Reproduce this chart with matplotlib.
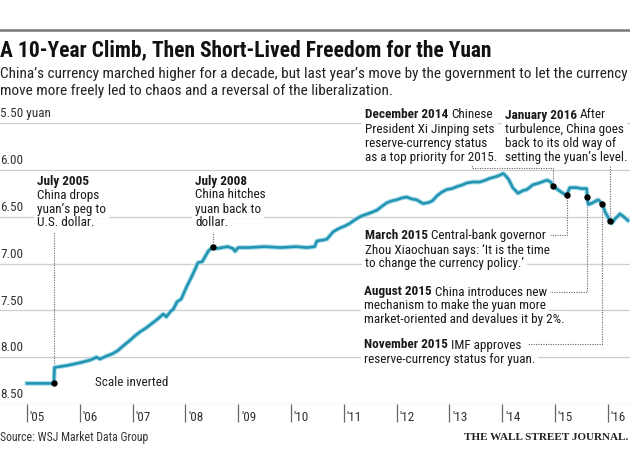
import matplotlib
matplotlib.use("Agg")
from matplotlib import pyplot as plt
from matplotlib.lines import Line2D
import matplotlib.patheffects as pe

# yuan per dollar (decimal years)
dates = [2005.00, 2005.51, 2005.52, 2005.75, 2006.00, 2006.20, 2006.32, 2006.38, 2006.50, 2006.63,
         2006.72, 2006.82, 2006.95, 2007.05, 2007.14, 2007.25, 2007.39, 2007.48, 2007.58, 2007.64,
         2007.72, 2007.77, 2007.84, 2007.92, 2008.03, 2008.12, 2008.24, 2008.32, 2008.43, 2008.52,
         2008.60, 2008.70, 2008.80, 2008.90, 2008.94, 2009.00, 2009.20, 2009.50, 2009.80, 2010.10,
         2010.30, 2010.45, 2010.49, 2010.60, 2010.68, 2010.80, 2010.93, 2011.02, 2011.12, 2011.22,
         2011.31, 2011.40, 2011.50, 2011.63, 2011.72, 2011.82, 2011.92, 2012.00, 2012.10, 2012.19,
         2012.28, 2012.38, 2012.50, 2012.60, 2012.68, 2012.76, 2012.85, 2012.95, 2013.05, 2013.14,
         2013.25, 2013.33, 2013.45, 2013.58, 2013.68, 2013.77, 2013.90, 2014.02, 2014.06, 2014.12,
         2014.20, 2014.30, 2014.40, 2014.47, 2014.58, 2014.70, 2014.85, 2014.92, 2014.96, 2015.05,
         2015.15, 2015.22, 2015.28, 2015.40, 2015.50, 2015.60, 2015.61, 2015.63, 2015.68, 2015.72,
         2015.78, 2015.82, 2015.89, 2015.95, 2016.00, 2016.04, 2016.08, 2016.14, 2016.20, 2016.23,
         2016.30, 2016.38]
yuan = [8.28, 8.28, 8.11, 8.09, 8.06, 8.03, 8.00, 8.02, 7.99, 7.96,
        7.93, 7.88, 7.82, 7.77, 7.73, 7.69, 7.63, 7.59, 7.54, 7.57,
        7.51, 7.49, 7.41, 7.38, 7.24, 7.14, 6.99, 6.98, 6.87, 6.82,
        6.84, 6.83, 6.82, 6.84, 6.87, 6.83, 6.83, 6.82, 6.83, 6.82,
        6.83, 6.82, 6.76, 6.75, 6.74, 6.66, 6.62, 6.60, 6.57, 6.53,
        6.50, 6.48, 6.46, 6.43, 6.39, 6.35, 6.33, 6.32, 6.30, 6.29,
        6.31, 6.32, 6.36, 6.35, 6.33, 6.28, 6.24, 6.21, 6.20, 6.18,
        6.16, 6.14, 6.13, 6.13, 6.11, 6.09, 6.07, 6.04, 6.06, 6.10,
        6.19, 6.25, 6.22, 6.21, 6.16, 6.14, 6.11, 6.13, 6.17, 6.21,
        6.25, 6.27, 6.19, 6.19, 6.20, 6.20, 6.29, 6.37, 6.36, 6.35,
        6.33, 6.32, 6.36, 6.45, 6.50, 6.55, 6.57, 6.52, 6.49, 6.47,
        6.50, 6.54]

# events marked with a dot
event_dates = [2005.51, 2008.52, 2014.96, 2015.22, 2015.61, 2015.89, 2016.04]
event_yuan = [8.28, 6.82, 6.17, 6.27, 6.29, 6.36, 6.55]

grid_values = [5.5, 6.0, 6.5, 7.0, 7.5, 8.0, 8.5]
grid_labels = ["5.50 yuan", "6.00", "6.50", "7.00", "7.50", "8.00", "8.50"]
tick_years = list(range(2005, 2017))
tick_labels = ["'%02d" % (y % 100) for y in tick_years]

FONT = ["Roboto Condensed", "DejaVu Sans"]
LINE = "#2494b3"
FS = 9.5
W, H = 630, 470


def fx(px):
    return px / W


def fy(py):
    return 1 - py / H


fig = plt.figure(figsize=(6.3, 4.7), dpi=100)
ax = fig.add_axes([0, fy(404), 1, fy(123) - fy(404)])
ax.set_xlim(2005 - 27 / 52.8, 2005 + 603 / 52.8)
ax.set_ylim(8.5, 5.5)
for s in ax.spines.values():
    s.set_visible(False)
ax.set_yticks([])
ax.set_xticks(tick_years)
ax.set_xticklabels([])
ax.tick_params(axis="x", length=13, width=0.9, color="#666666", direction="out")
ax.patch.set_alpha(0)

for v, lab in zip(grid_values, grid_labels):
    ax.axhline(v, color="#bdbdbd" if v == 8.5 else "#cfcfcf", lw=0.9, zorder=1)
    ax.annotate(lab, xy=(0, v), xycoords=("axes fraction", "data"), xytext=(0, 2),
                textcoords="offset points", ha="left", va="bottom", fontsize=FS,
                family=FONT, color="#333333")

for yr, lab in zip(tick_years, tick_labels):
    ax.annotate(lab, xy=(yr, 8.5), xytext=(2, -5), textcoords="offset points",
                ha="left", va="top", fontsize=FS, family=FONT, color="#333333",
                annotation_clip=False)

# leader lines: from event point to the note
leaders = [
    [(2005.51, 8.28), (2005.51, 6.66)],
    [(2008.52, 6.82), (2008.52, 6.66)],
    [(2014.96, 6.17), (2014.96, 5.98), (2013.43, 5.98), (2013.43, 5.95)],
    [(2016.04, 6.55), (2016.04, 5.94)],
    [(2015.22, 6.27), (2015.22, 6.70), (2014.90, 6.70)],
    [(2015.61, 6.29), (2015.61, 7.30), (2014.87, 7.30)],
    [(2015.89, 6.36), (2015.89, 7.86), (2014.47, 7.86)],
]
for pts in leaders:
    xs, ys = zip(*pts)
    ax.plot(xs, ys, color="#666666", lw=0.8, ls=(0, (1, 1.2)), zorder=2, clip_on=False)

ax.plot(dates, yuan, color=LINE, lw=1.9, zorder=5, solid_joinstyle="round",
        path_effects=[pe.Stroke(linewidth=3.4, foreground="#a9dcea"), pe.Normal()])
ax.plot(event_dates, event_yuan, "o", color="black", ms=3.6, zorder=6)

renderer = fig.canvas.get_renderer()


def put(x, y, s, **kw):
    # white mask underneath, visible text on top
    fig.text(x, y, s, fontsize=FS, family=FONT, ha="left", va="center", color="none",
             zorder=3, bbox=dict(fc="white", ec="none", pad=2), **kw)
    return fig.text(x, y, s, fontsize=FS, family=FONT, ha="left", va="center",
                    color="#1a1a1a", zorder=4, **kw)


def note(x, y, bold, lines, step=14):
    t = put(fx(x), fy(y), bold, weight="bold")
    if lines[0]:
        bb = t.get_window_extent(renderer)
        put((bb.x1 + 3) / W, fy(y), lines[0])
    for i, ln in enumerate(lines[1:], start=1):
        put(fx(x), fy(y + i * step), ln)


note(37, 181, "July 2005", ["", "China drops", "yuan\u2019s peg to", "U.S. dollar."])
note(195, 181, "July 2008", ["", "China hitches", "yuan back to", "dollar."])
note(365, 115, "December 2014", ["Chinese", "President Xi Jinping sets",
                                 "reserve-currency status", "as a top priority for 2015."])
note(505, 115, "January 2016", ["After", "turbulence, China goes",
                                "back to its old way of", "setting the yuan\u2019s level."])
note(365, 236, "March 2015", ["Central-bank governor", "Zhou Xiaochuan says: \u2018It is the time",
                              "to change the currency policy.\u2019"])
note(364, 292, "August 2015", ["China introduces new", "mechanism to make the yuan more",
                               "market-oriented and devalues it by 2%."])
note(364, 345, "November 2015", ["IMF approves", "reserve-currency status for yuan."])

fig.text(fx(95), fy(383), "Scale inverted", fontsize=FS, family=FONT, color="#222222",
         ha="left", va="center")

# header
fig.add_artist(Line2D([0, 1], [fy(30), fy(30)], color="#777777", lw=1.8))
fig.text(0, fy(50), "A 10-Year Climb, Then Short-Lived Freedom for the Yuan", fontsize=15.5,
         family=FONT, weight="bold", color="#111111", ha="left", va="center")
fig.text(0, fy(74), "China\u2019s currency marched higher for a decade, but last year\u2019s move by "
         "the government to let the currency", fontsize=11, family=FONT, color="#222222",
         ha="left", va="center")
fig.text(0, fy(91), "move more freely led to chaos and a reversal of the liberalization.",
         fontsize=11, family=FONT, color="#222222", ha="left", va="center")

# footer
fig.text(0, fy(438), "Source: WSJ Market Data Group", fontsize=8.5, family=FONT,
         color="#333333", ha="left", va="center")
fig.text(fx(628), fy(437), "THE WALL STREET JOURNAL.", fontsize=8, family="Liberation Serif",
         weight="bold", color="#222222", ha="right", va="center")

fig.savefig("out.png", dpi=100, facecolor="white")
